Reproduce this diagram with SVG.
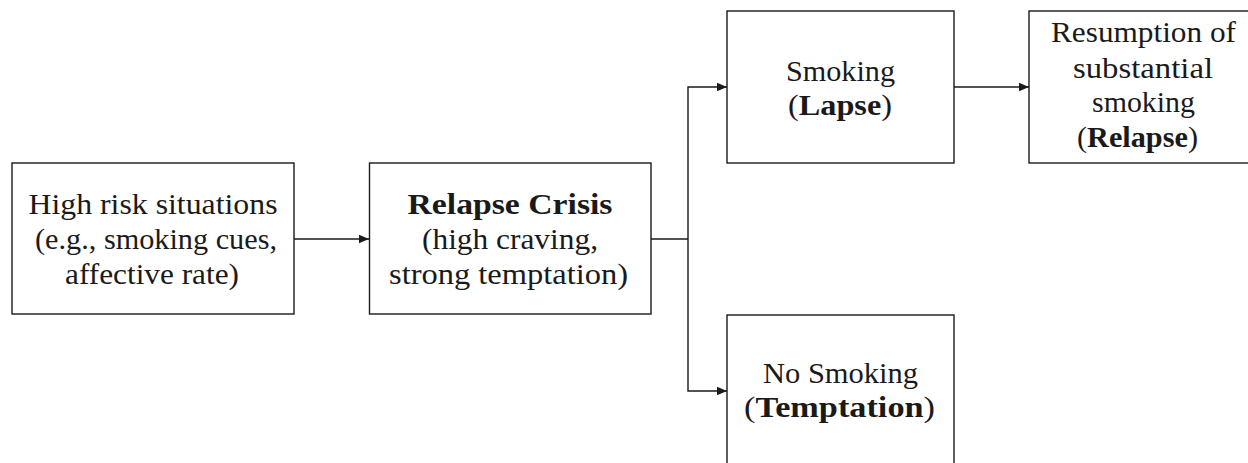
<svg xmlns="http://www.w3.org/2000/svg" width="1248" height="463" viewBox="0 0 1248 463">
<style>
.box{fill:#fff;stroke:#1a1a1a;stroke-width:1.4}
.t{font-family:"Liberation Serif","Times New Roman",serif;font-size:29px;fill:#1a1a1a;text-anchor:middle}
.b{font-weight:bold}
.c{fill:none;stroke:#1a1a1a;stroke-width:1.4}
</style>
<defs>
<marker id="ah" viewBox="0 0 10 10" refX="10" refY="5" markerWidth="10" markerHeight="10" markerUnits="userSpaceOnUse" orient="auto">
<path d="M0,0.8 L10,5 L0,9.2 Z" fill="#1a1a1a"/>
</marker>
</defs>
<rect width="1248" height="463" fill="#fff"/>
<g id="connectors">
<path class="c" d="M294,239 H369" marker-end="url(#ah)"/>
<path class="c" d="M651,239 H688"/>
<path class="c" d="M688,239 V87 H727" marker-end="url(#ah)"/>
<path class="c" d="M688,239 V391 H727" marker-end="url(#ah)"/>
<path class="c" d="M954,87 H1029" marker-end="url(#ah)"/>
</g>
<g id="high-risk">
<rect class="box" x="12" y="163" width="282" height="151"/>
<text class="t" x="153" y="214" textLength="249" lengthAdjust="spacingAndGlyphs">High risk situations</text>
<text class="t" x="156" y="249" textLength="242" lengthAdjust="spacingAndGlyphs">(e.g., smoking cues,</text>
<text class="t" x="152" y="284" textLength="174" lengthAdjust="spacingAndGlyphs">affective rate)</text>
</g>
<g id="relapse-crisis">
<rect class="box" x="369.5" y="163" width="281.5" height="151"/>
<text class="t b" x="510" y="214" textLength="205" lengthAdjust="spacingAndGlyphs">Relapse Crisis</text>
<text class="t" x="510" y="249" textLength="176" lengthAdjust="spacingAndGlyphs">(high craving,</text>
<text class="t" x="508.5" y="284" textLength="239" lengthAdjust="spacingAndGlyphs">strong temptation)</text>
</g>
<g id="lapse">
<rect class="box" x="727" y="11" width="227" height="152"/>
<text class="t" x="840.5" y="81" textLength="109" lengthAdjust="spacingAndGlyphs">Smoking</text>
<text class="t" x="840" y="115" textLength="104" lengthAdjust="spacingAndGlyphs">(<tspan class="b">Lapse</tspan>)</text>
</g>
<g id="relapse">
<rect class="box" x="1029" y="11" width="228" height="152"/>
<text class="t" x="1143.5" y="42" textLength="185" lengthAdjust="spacingAndGlyphs">Resumption of</text>
<text class="t" x="1143" y="78" textLength="140" lengthAdjust="spacingAndGlyphs">substantial</text>
<text class="t" x="1143.5" y="112" textLength="103" lengthAdjust="spacingAndGlyphs">smoking</text>
<text class="t" x="1137.5" y="147" textLength="121" lengthAdjust="spacingAndGlyphs">(<tspan class="b">Relapse</tspan>)</text>
</g>
<g id="temptation">
<rect class="box" x="727" y="315" width="227" height="155"/>
<text class="t" x="840.5" y="383" textLength="155" lengthAdjust="spacingAndGlyphs">No Smoking</text>
<text class="t" x="839.5" y="417" textLength="191" lengthAdjust="spacingAndGlyphs">(<tspan class="b">Temptation</tspan>)</text>
</g>
</svg>
